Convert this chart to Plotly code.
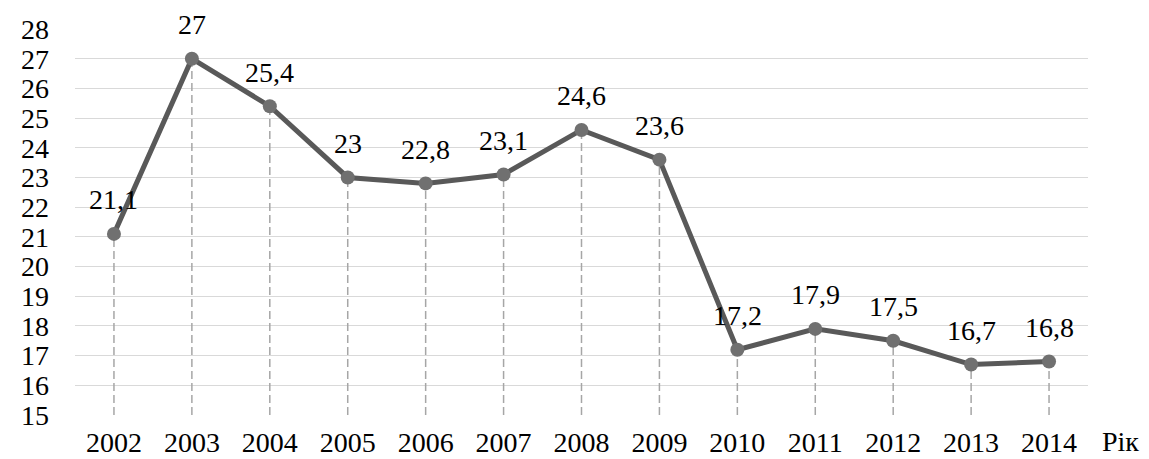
import plotly.graph_objects as go

years = ["2002", "2003", "2004", "2005", "2006", "2007", "2008",
         "2009", "2010", "2011", "2012", "2013", "2014"]
values = [21.1, 27, 25.4, 23, 22.8, 23.1, 24.6, 23.6, 17.2, 17.9, 17.5, 16.7, 16.8]
y_ticks = list(range(15, 29))
base = 15

FONT = "Times New Roman, Liberation Serif, serif"

# dashed drop lines from the axis floor up to each point
drop_x, drop_y = [], []
for yr, v in zip(years, values):
    drop_x += [yr, yr, None]
    drop_y += [base, v, None]

labels = [f"{v:g}".replace(".", ",") for v in values]

fig = go.Figure()
fig.add_trace(go.Scatter(
    x=drop_x, y=drop_y, mode="lines",
    line=dict(color="#a6a6a6", width=1.5, dash="8px,4px"),
    hoverinfo="skip", showlegend=False,
))
fig.add_trace(go.Scatter(
    x=years, y=values, mode="lines+markers",
    line=dict(color="#595959", width=5),
    marker=dict(size=14, color="#707070"),
    showlegend=False,
))

# value labels sit well above the points (x given as category index)
for i, (v, lab) in enumerate(zip(values, labels)):
    fig.add_annotation(
        x=i, y=v, text=lab, showarrow=False,
        yanchor="middle", yshift=34,
        font=dict(family=FONT, size=28, color="black"),
    )

fig.add_annotation(
    text="Рік", xref="paper", yref="paper", x=1, y=0,
    xanchor="left", yanchor="middle", xshift=12, yshift=-26,
    showarrow=False, font=dict(family=FONT, size=28, color="black"),
)

# page has an 8px body margin, so the figure is sized to fit inside it
fig.update_layout(
    width=1141, height=451,
    margin=dict(l=67, r=61, t=21, b=44),
    plot_bgcolor="white", paper_bgcolor="white",
    font=dict(family=FONT, size=28, color="black"),
    xaxis=dict(
        type="category", range=[-0.5, 12.5], showgrid=False,
        showline=False, zeroline=False, ticks="", automargin=False,
        ticklabelstandoff=8,
        tickfont=dict(family=FONT, size=28),
    ),
    yaxis=dict(
        range=[15, 28], tickvals=y_ticks, showgrid=True,
        gridcolor="#d9d9d9", gridwidth=1.2, zeroline=False,
        showline=False, ticks="", ticklabelstandoff=25, automargin=False,
        tickfont=dict(family=FONT, size=28),
    ),
)

fig.write_html("out.html")
